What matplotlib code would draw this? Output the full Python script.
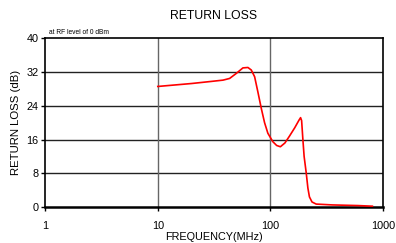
import matplotlib
matplotlib.use("Agg")
import matplotlib.pyplot as plt
from matplotlib.ticker import FixedLocator, NullLocator

plt.rcParams['font.family'] = ['Liberation Sans', 'DejaVu Sans']

freq_mhz = [10, 20, 30, 38, 43.5, 49.9, 57.1, 63.3, 67.8, 72.6, 77.6, 83.2,
            89, 95.2, 105.4, 114, 123, 135, 148, 165, 180, 186, 190, 195,
            200, 209, 216, 223, 235, 256, 357, 600, 809]
return_loss_db = [28.6, 29.3, 29.8, 30.1, 30.5, 31.7, 33.0, 33.1, 32.5, 30.9,
                  27.3, 23.4, 20.0, 17.5, 15.5, 14.6, 14.3, 15.2, 16.8, 18.8,
                  20.6, 21.2, 20.5, 16.0, 12.0, 8.0, 4.5, 2.4, 1.2, 0.7, 0.5,
                  0.35, 0.2]
x_ticks = [1, 10, 100, 1000]
x_tick_labels = ["1", "10", "100", "1000"]
y_ticks = [0, 8, 16, 24, 32, 40]

fig = plt.figure(figsize=(3.96, 2.43), dpi=100)
ax = fig.add_axes([0.1145, 0.148, 0.852, 0.694])

ax.plot(freq_mhz, return_loss_db, color='#ff0000', linewidth=1.2, zorder=3,
        solid_joinstyle='round')

ax.set_xscale('log')
ax.set_xlim(1, 1000)
ax.set_ylim(0, 40)
ax.xaxis.set_major_locator(FixedLocator(x_ticks))
ax.xaxis.set_minor_locator(NullLocator())
ax.set_xticklabels(x_tick_labels)
ax.set_yticks(y_ticks)

for v in y_ticks[1:-1]:
    ax.axhline(v, color='#222222', linewidth=1.0, zorder=1)
for v in x_ticks[1:-1]:
    ax.axvline(v, color='#666666', linewidth=1.0, zorder=1)

for s in ax.spines.values():
    s.set_linewidth(1.2)
    s.set_color('black')
ax.spines['bottom'].set_linewidth(1.8)

ax.tick_params(axis='both', direction='out', length=3, width=1, labelsize=7.8, pad=2)
ax.tick_params(axis='x', pad=7)

ax.set_title("RETURN LOSS", fontsize=8.8, pad=14)
ax.text(0.01, 1.015, "at RF level of 0 dBm", transform=ax.transAxes,
        fontsize=4.8, ha='left', va='bottom')
ax.set_ylabel("RETURN LOSS (dB)", fontsize=8.2, labelpad=4)
ax.set_xlabel("FREQUENCY(MHz)", fontsize=7.8, labelpad=1)

fig.savefig("out.png", dpi=100)
